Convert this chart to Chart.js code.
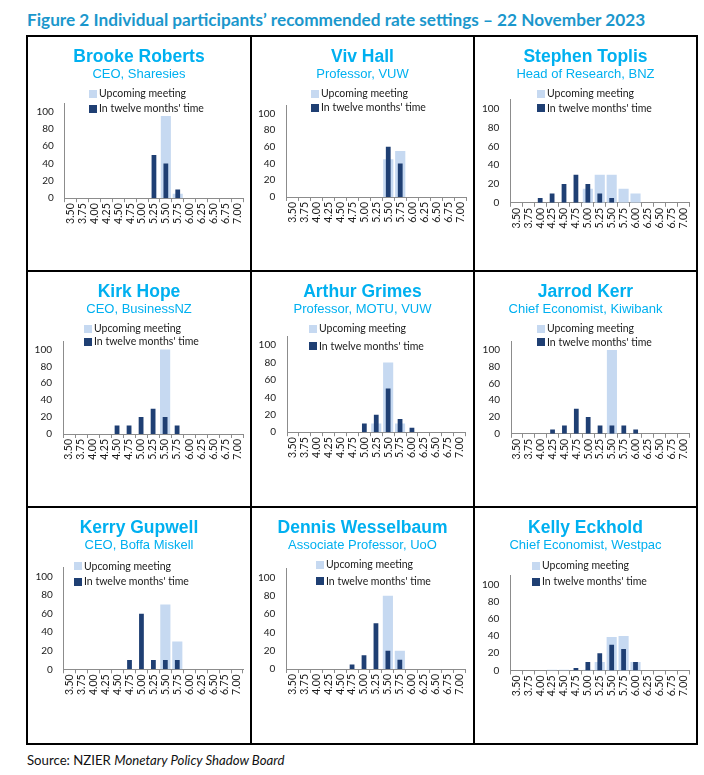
<!DOCTYPE html>
<html>
<head>
<meta charset="utf-8">
<script src="https://cdn.jsdelivr.net/npm/chart.js@4.4.1/dist/chart.umd.min.js"></script>
<style>
  body { margin: 0; background: #fff; }
  #page { position: relative; width: 704px; height: 775px; background: #fff; overflow: hidden; }
  .heading { position: absolute; left: 27px; top: 9px; font: bold 17.2px Lato, sans-serif; color: #1b97cc; white-space: nowrap; }
  .source { position: absolute; left: 27px; top: 752px; font: 13.2px Lato, sans-serif; color: #111; white-space: nowrap; }
  .line { position: absolute; background: #000; }
  .panel { position: absolute; }
  .panel canvas { position: absolute; left: 0; top: 0; }
  .name { position: absolute; left: 0; width: 100%; text-align: center; font: bold 17.5px "Liberation Sans", Arial, sans-serif; color: #00b0f0; white-space: nowrap; }
  .role { position: absolute; left: 0; width: 100%; text-align: center; font: 13px "Liberation Sans", Arial, sans-serif; color: #00b0f0; white-space: nowrap; }
  .leg { position: absolute; font: 10.5px Lato, sans-serif; color: #1a1a1a; white-space: nowrap; line-height: 12px; }
  .leg i { display: inline-block; width: 8px; height: 8px; margin-right: 2px; vertical-align: -0.5px; }
</style>
</head>
<body>
<div id="page">
  <div class="heading">Figure 2 Individual participants’ recommended rate settings – 22 November 2023</div>
  <div class="source">Source: NZIER <i>Monetary Policy Shadow Board</i></div>
</div>
<script>
// rate settings on the x axis
const rates = ['3.50','3.75','4.00','4.25','4.50','4.75','5.00','5.25','5.50','5.75','6.00','6.25','6.50','6.75','7.00'];
const yTicks = [0, 20, 40, 60, 80, 100];
const seriesNames = ['Upcoming meeting', "In twelve months' time"];

const names = ['Brooke Roberts','Viv Hall','Stephen Toplis','Kirk Hope','Arthur Grimes','Jarrod Kerr','Kerry Gupwell','Dennis Wesselbaum','Kelly Eckhold'];
const roles = ['CEO, Sharesies','Professor, VUW','Head of Research, BNZ','CEO, BusinessNZ','Professor, MOTU, VUW','Chief Economist, Kiwibank','CEO, Boffa Miskell','Associate Professor, UoO','Chief Economist, Westpac'];

// % of probability by rate:        3.50 3.75 4.00 4.25 4.50 4.75 5.00 5.25 5.50 5.75 6.00 6.25 6.50 6.75 7.00
const robertsUpcoming    = [0, 0, 0, 0, 0, 0, 0, 0, 95, 5, 0, 0, 0, 0, 0];
const robertsTwelve      = [0, 0, 0, 0, 0, 0, 0, 50, 40, 10, 0, 0, 0, 0, 0];
const hallUpcoming       = [0, 0, 0, 0, 0, 0, 0, 0, 45, 55, 0, 0, 0, 0, 0];
const hallTwelve         = [0, 0, 0, 0, 0, 0, 0, 0, 60, 40, 0, 0, 0, 0, 0];
const toplisUpcoming     = [0, 0, 0, 0, 0, 0, 15, 30, 30, 15, 10, 0, 0, 0, 0];
const toplisTwelve       = [0, 0, 5, 10, 20, 30, 20, 10, 5, 0, 0, 0, 0, 0, 0];
const hopeUpcoming       = [0, 0, 0, 0, 0, 0, 0, 0, 100, 0, 0, 0, 0, 0, 0];
const hopeTwelve         = [0, 0, 0, 0, 10, 10, 20, 30, 20, 10, 0, 0, 0, 0, 0];
const grimesUpcoming     = [0, 0, 0, 0, 0, 0, 0, 10, 80, 10, 0, 0, 0, 0, 0];
const grimesTwelve       = [0, 0, 0, 0, 0, 0, 10, 20, 50, 15, 5, 0, 0, 0, 0];
const kerrUpcoming       = [0, 0, 0, 0, 0, 0, 0, 0, 100, 0, 0, 0, 0, 0, 0];
const kerrTwelve         = [0, 0, 0, 5, 10, 30, 20, 10, 10, 10, 5, 0, 0, 0, 0];
const gupwellUpcoming    = [0, 0, 0, 0, 0, 0, 0, 0, 70, 30, 0, 0, 0, 0, 0];
const gupwellTwelve      = [0, 0, 0, 0, 0, 10, 60, 10, 10, 10, 0, 0, 0, 0, 0];
const wesselbaumUpcoming = [0, 0, 0, 0, 0, 0, 0, 0, 80, 20, 0, 0, 0, 0, 0];
const wesselbaumTwelve   = [0, 0, 0, 0, 0, 5, 15, 50, 20, 10, 0, 0, 0, 0, 0];
const eckholdUpcoming    = [0, 0, 0, 1, 1, 0, 1, 10, 39, 40, 10, 0, 0, 0, 0];
const eckholdTwelve      = [0, 0, 0, 0, 0, 3, 10, 20, 30, 25, 10, 0, 0, 0, 0];

const upcoming = [robertsUpcoming, hallUpcoming, toplisUpcoming, hopeUpcoming, grimesUpcoming, kerrUpcoming, gupwellUpcoming, wesselbaumUpcoming, eckholdUpcoming];
const twelve = [robertsTwelve, hallTwelve, toplisTwelve, hopeTwelve, grimesTwelve, kerrTwelve, gupwellTwelve, wesselbaumTwelve, eckholdTwelve];

// page layout
const colX = [27, 251, 474, 697];
const rowY = [36, 271, 507, 744];
// per panel: y axis x, x axis right end, plot top, zero line y, legend x, legend rows y (relative to panel)
const boxes = [
  [37.8, 217, 67, 162.2, 62, 57, 72],
  [35.4, 215.5, 69, 161, 60, 57, 71],
  [36.4, 216, 63.5, 166.8, 63, 57.4, 71.6],
  [36, 217, 70, 163, 57, 57.2, 70.3],
  [36, 214.5, 65.3, 161.2, 58, 57, 74.7],
  [37, 216, 70.6, 162.8, 63, 57, 70.5],
  [36.8, 216, 60.4, 162.3, 47, 58.5, 74.4],
  [35.4, 214.5, 61.2, 162, 65, 57, 73.7],
  [36.4, 216, 68.7, 163.5, 58, 58, 74]
];
const lightBlue = '#c6d9f1';
const navy = '#1f3f73';
const axisGrey = '#8c8c8c';

const page = document.getElementById('page');

function addLine(x, y, w, h) {
  const d = document.createElement('div');
  d.className = 'line';
  d.style.left = x + 'px'; d.style.top = y + 'px';
  d.style.width = w + 'px'; d.style.height = h + 'px';
  page.appendChild(d);
}
for (const x of colX) addLine(x - 1, rowY[0] - 1, 2, rowY[3] - rowY[0] + 2);
for (const y of rowY) addLine(colX[0] - 1, y - 1, colX[3] - colX[0] + 2, 2);

function drawPanel(i) {
  const col = i % 3, row = Math.floor(i / 3);
  const left = colX[col], top = rowY[row];
  const w = colX[col + 1] - left, h = rowY[row + 1] - top;
  const b = boxes[i];

  const panel = document.createElement('div');
  panel.className = 'panel';
  panel.style.left = left + 'px'; panel.style.top = top + 'px';
  panel.style.width = w + 'px'; panel.style.height = h + 'px';
  page.appendChild(panel);

  const canvas = document.createElement('canvas');
  canvas.width = w; canvas.height = h;
  panel.appendChild(canvas);

  const name = document.createElement('div');
  name.className = 'name'; name.textContent = names[i];
  name.style.top = '10px';
  panel.appendChild(name);
  const role = document.createElement('div');
  role.className = 'role'; role.textContent = roles[i];
  role.style.top = '30px';
  panel.appendChild(role);

  [lightBlue, navy].forEach((c, k) => {
    const lg = document.createElement('div');
    lg.className = 'leg';
    lg.style.left = b[4] + 'px';
    lg.style.top = (b[5 + k] - 6) + 'px';
    lg.innerHTML = '<i style="background:' + c + '"></i>';
    lg.appendChild(document.createTextNode(seriesNames[k]));
    panel.appendChild(lg);
  });

  new Chart(canvas.getContext('2d'), {
    type: 'bar',
    data: {
      labels: rates,
      datasets: [
        {
          label: seriesNames[0],
          data: upcoming[i],
          backgroundColor: lightBlue,
          barPercentage: 0.85,
          categoryPercentage: 1,
          grouped: false,
          order: 1
        },
        {
          label: seriesNames[1],
          data: twelve[i],
          backgroundColor: navy,
          barPercentage: 0.4,
          categoryPercentage: 1,
          grouped: false,
          order: 0
        }
      ]
    },
    options: {
      responsive: false,
      animation: false,
      devicePixelRatio: 1,
      layout: { padding: { top: b[2], right: w - b[1], left: 0, bottom: 0 } },
      plugins: { legend: { display: false }, tooltip: { enabled: false } },
      scales: {
        x: {
          offset: true,
          grid: { display: true, drawOnChartArea: false, offset: true, tickLength: 4, color: axisGrey },
          border: { color: axisGrey, width: 1 },
          ticks: {
            autoSkip: false, minRotation: 90, maxRotation: 90, padding: 1,
            color: '#1a1a1a', font: { family: 'Lato', size: 10.5 }
          },
          afterFit: s => { s.height = h - b[3]; }
        },
        y: {
          min: 0, max: 110,
          grid: { display: false, drawTicks: false },
          border: { color: axisGrey, width: 1 },
          ticks: { autoSkip: false, padding: 11, color: '#1a1a1a', font: { family: 'Lato', size: 10 } },
          afterBuildTicks: s => { s.ticks = yTicks.map(v => ({ value: v })); },
          afterFit: s => { s.width = b[0]; }
        }
      }
    }
  });
}

for (let i = 0; i < names.length; i++) drawPanel(i);
</script>
</body>
</html>
